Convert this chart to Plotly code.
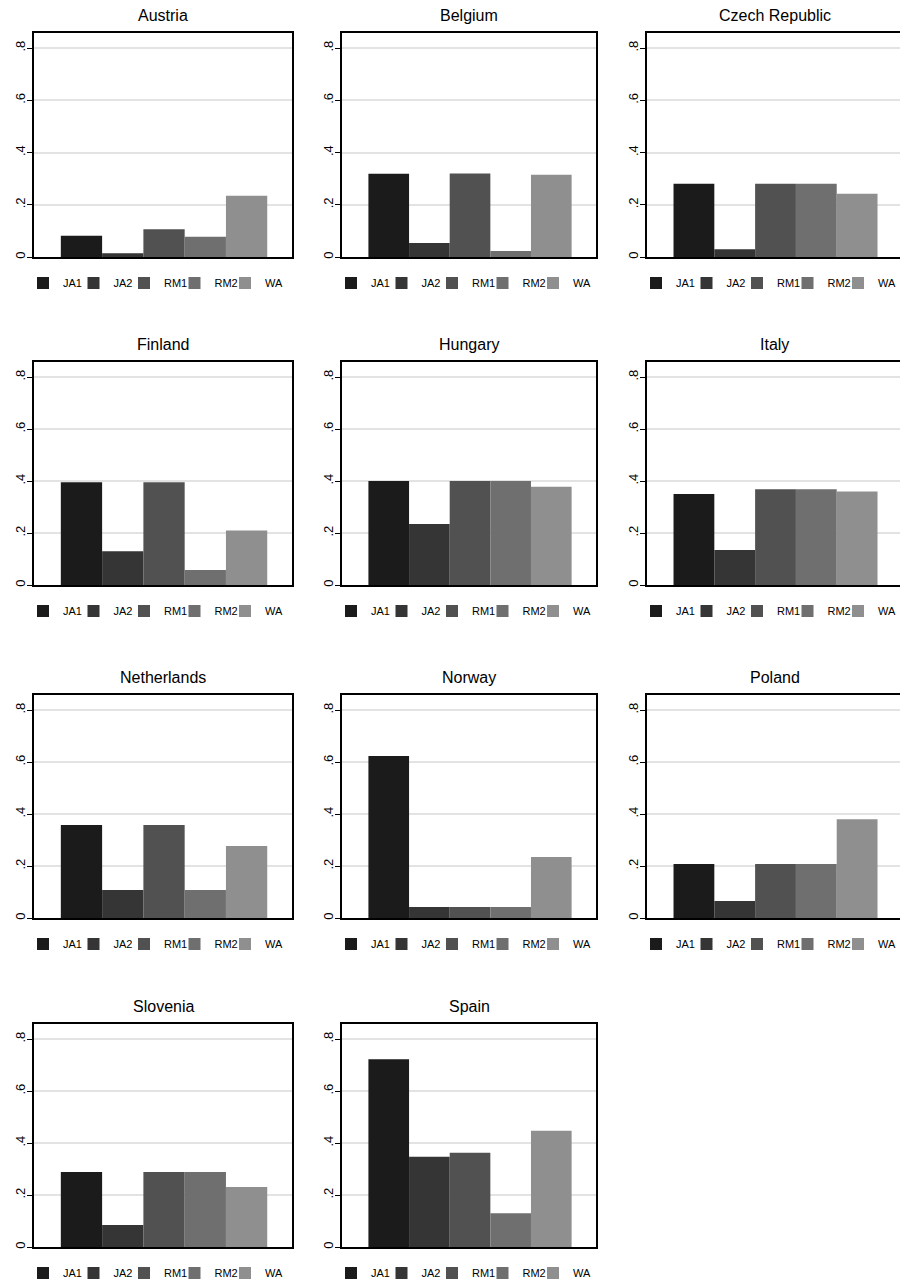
import plotly.graph_objects as go
from plotly.subplots import make_subplots

countries = ["Austria", "Belgium", "Czech Republic", "Finland", "Hungary", "Italy",
             "Netherlands", "Norway", "Poland", "Slovenia", "Spain"]
categories = ["JA1", "JA2", "RM1", "RM2", "WA"]

JA1 = [0.081, 0.319, 0.281, 0.395, 0.400, 0.350, 0.358, 0.623, 0.208, 0.289, 0.722]
JA2 = [0.014, 0.054, 0.030, 0.130, 0.235, 0.135, 0.108, 0.042, 0.065, 0.085, 0.347]
RM1 = [0.106, 0.320, 0.281, 0.395, 0.400, 0.368, 0.358, 0.042, 0.208, 0.289, 0.363]
RM2 = [0.078, 0.023, 0.281, 0.058, 0.400, 0.368, 0.108, 0.042, 0.208, 0.289, 0.130]
WA  = [0.235, 0.315, 0.242, 0.210, 0.378, 0.360, 0.277, 0.235, 0.380, 0.231, 0.447]

series = {"JA1": JA1, "JA2": JA2, "RM1": RM1, "RM2": RM2, "WA": WA}
colors = {"JA1": "#1b1b1b", "JA2": "#353535", "RM1": "#515151", "RM2": "#6f6f6f", "WA": "#8f8f8f"}

ytickvals = [0, 0.2, 0.4, 0.6, 0.8]
yticktext = ["0", ".2", ".4", ".6", ".8"]

# page body has an 8px margin: lay out in page pixels, then shift
OFF = 8
W, H = 908 - OFF, 1282 - OFF
col_px = [(34, 292), (342, 596), (647, 902)]
row_px = [(33, 257), (362, 585), (695, 918), (1024, 1247)]

def px(v):
    return (v - OFF) / W

def py(v):
    return 1 - (v - OFF) / H

fig = make_subplots(rows=4, cols=3)
FONT = "Liberation Sans, Arial, sans-serif"

annotations = []
for k, country in enumerate(countries):
    r, c = divmod(k, 3)
    x0, x1 = col_px[c]
    t, b = row_px[r]
    lname = "legend" if k == 0 else f"legend{k+1}"
    for j, cat in enumerate(categories):
        fig.add_trace(go.Bar(
            x=[j], y=[series[cat][k]], width=1, name=cat,
            marker=dict(color=colors[cat], line=dict(width=0)),
            legend=lname, showlegend=True, hoverinfo="skip",
            legendwidth=(22 if cat == "WA" else 5.5),
        ), row=r + 1, col=c + 1)
    axn = "" if k == 0 else str(k + 1)
    fig.layout["xaxis" + axn].update(
        domain=[px(x0), px(x1)], range=[-1.15, 5.1], showticklabels=False,
        ticks="", showgrid=False, zeroline=False, showline=True, mirror=True,
        linecolor="black", linewidth=1.5, fixedrange=True, automargin=False)
    fig.layout["yaxis" + axn].update(
        domain=[py(b), py(t)], range=[0, 0.858], tickvals=ytickvals,
        ticktext=yticktext, tickangle=-90, ticks="outside", ticklen=5,
        tickcolor="black", tickfont=dict(size=13, color="black", family=FONT),
        ticklabelstandoff=-3,
        showgrid=True, gridcolor="#e3e3e3", gridwidth=1.5, zeroline=False,
        showline=True, mirror=True, linecolor="black", linewidth=1.5,
        fixedrange=True, automargin=False)
    annotations.append(dict(
        text=country, x=px((x0 + x1) / 2), y=py(t - 7), xref="paper", yref="paper",
        xanchor="center", yanchor="bottom", showarrow=False,
        font=dict(size=16, color="black", family=FONT)))
    fig.layout[lname] = dict(
        orientation="h", x=px(x0 - 11), y=py(b + 26), xanchor="left",
        yanchor="middle", font=dict(size=11, color="black", family=FONT),
        itemwidth=30, tracegroupgap=0, bgcolor="rgba(0,0,0,0)",
        itemclick=False, itemdoubleclick=False)

fig.update_layout(
    width=W, height=H, margin=dict(l=0, r=0, t=0, b=0, autoexpand=False),
    paper_bgcolor="white", plot_bgcolor="white", barmode="overlay",
    annotations=annotations, font=dict(family=FONT),
)

fig.write_html("out.html")
